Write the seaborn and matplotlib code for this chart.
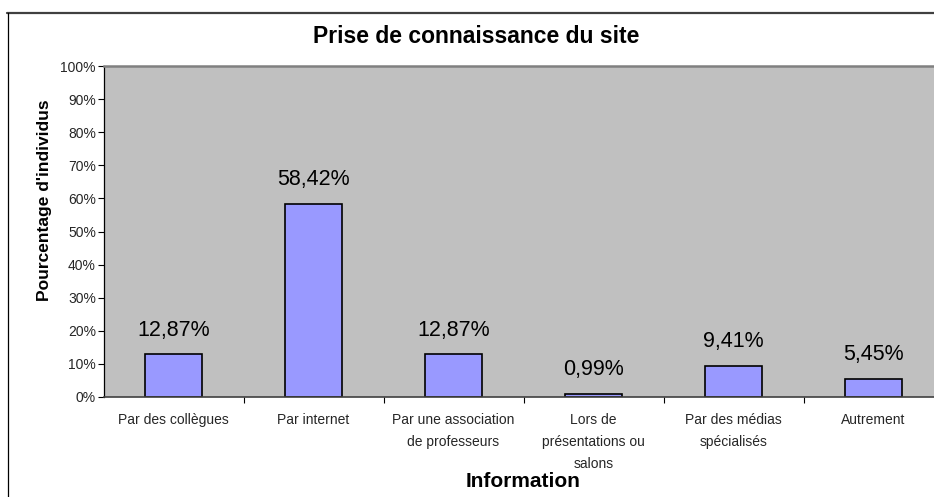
import matplotlib
matplotlib.use("Agg")
import matplotlib.pyplot as plt
from matplotlib.lines import Line2D
from matplotlib.ticker import FixedLocator, FuncFormatter
import seaborn as sns
import pandas as pd

categories = [
    "Par des collègues",
    "Par internet",
    "Par une association\nde professeurs",
    "Lors de\nprésentations ou\nsalons",
    "Par des médias\nspécialisés",
    "Autrement",
]
values = [12.87, 58.42, 12.87, 0.99, 9.41, 5.45]
yticks = [0, 10, 20, 30, 40, 50, 60, 70, 80, 90, 100]

title = "Prise de connaissance du site"
xlabel = "Information"
ylabel = "Pourcentage d'individus"

df = pd.DataFrame({"cat": categories, "val": values})

sns.set_theme(style="white")
plt.rcParams["font.family"] = ["Liberation Sans", "DejaVu Sans"]

W, H = 934, 497
fig = plt.figure(figsize=(W / 100, H / 100), dpi=100)
fig.patch.set_facecolor("white")

ax_left, ax_right, ax_top, ax_bot = 103.5, 943.5, 66, 397
ax = fig.add_axes([ax_left / W, 1 - ax_bot / H, (ax_right - ax_left) / W, (ax_bot - ax_top) / H])
ax.set_facecolor("#C0C0C0")

sns.barplot(data=df, x="cat", y="val", color="#9999FF", saturation=1,
            edgecolor="black", linewidth=1.2, width=0.41, ax=ax)

ax.set_xlim(-0.5, len(categories) - 0.5)
ax.set_ylim(0, 100)
ax.set_yticks(yticks)
ax.yaxis.set_major_formatter(FuncFormatter(lambda v, p: f"{int(v)}%"))
ax.tick_params(axis="y", direction="out", length=4, width=0.8, color="black",
               labelsize=10, pad=1.5, left=True)
ax.tick_params(axis="x", which="major", length=0, labelsize=10, pad=11.5)
ax.xaxis.set_minor_locator(FixedLocator([i + 0.5 for i in range(len(categories))]))
ax.tick_params(axis="x", which="minor", direction="out", length=4, width=0.8,
               color="black", bottom=True)
for lab in ax.get_xticklabels():
    lab.set_linespacing(1.74)
    lab.set_ha("center")

labels = [f"{v:.2f}".replace(".", ",") + "%" for v in values]
ax.bar_label(ax.containers[0], labels=labels, padding=10, fontsize=15.5, color="black")

ax.grid(False)
for side in ["left", "bottom", "top", "right"]:
    ax.spines[side].set_visible(True)
ax.spines["left"].set_color("black")
ax.spines["left"].set_linewidth(0.9)
ax.spines["bottom"].set_color("#404040")
ax.spines["bottom"].set_linewidth(1.2)
ax.spines["top"].set_color("#808080")
ax.spines["top"].set_linewidth(1.8)
ax.spines["right"].set_color("#808080")

ax.set_xlabel(xlabel, fontsize=15, fontweight="bold", color="black")
ax.xaxis.set_label_coords(0.5, (ax_bot - 487) / (ax_bot - ax_top))
ax.xaxis.label.set_verticalalignment("baseline")
ax.set_ylabel(ylabel, fontsize=12.5, fontweight="bold", color="black")
ax.yaxis.set_label_coords((45 - ax_left) / (ax_right - ax_left), (ax_bot - 200) / (ax_bot - ax_top))
ax.yaxis.label.set_verticalalignment("center")

fig.text(476 / W, 1 - 43 / H, title, ha="center", va="baseline",
         fontsize=16.5, fontweight="bold", color="black")

# chart-area border (top and left visible; right/bottom clipped)
fig.add_artist(Line2D([7 / W, 1.0], [1 - 12.5 / H, 1 - 12.5 / H], color="#404040", lw=1.6))
fig.add_artist(Line2D([7.5 / W, 7.5 / W], [0, 1 - 12.5 / H], color="black", lw=0.9))

fig.savefig("out.png", dpi=100)
